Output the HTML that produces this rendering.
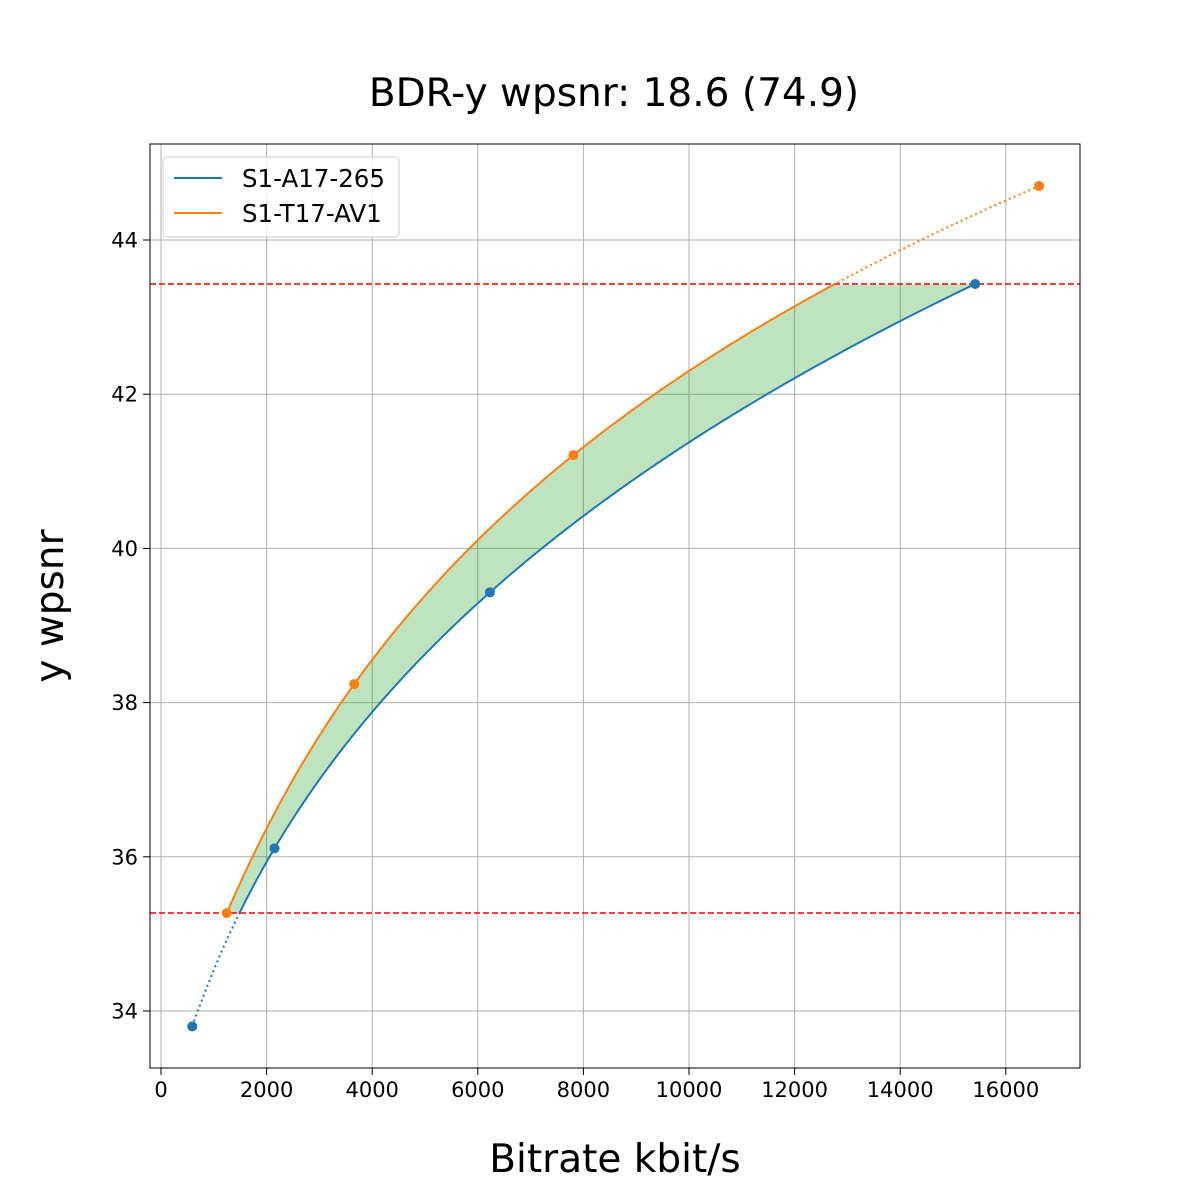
<!DOCTYPE html>
<html><head><meta charset="utf-8"><style>
html,body{margin:0;background:#fff;overflow:hidden;width:1200px;height:1200px}
svg{display:block}
svg text{font-family:"DejaVu Sans","Liberation Sans",sans-serif}
</style></head><body>
<svg id="s" width="1200" height="1200" xmlns="http://www.w3.org/2000/svg">
<rect width="1200" height="1200" fill="#fff"/>
<g id="grid" stroke="#b0b0b0" stroke-width="1"></g>
<path id="fill" fill="#2ca02c" fill-opacity="0.3" stroke="none"/>
<line x1="150" x2="1080" y1="284" y2="284" stroke="#ff0000" stroke-width="1.5" stroke-dasharray="6,3"/>
<line x1="150" x2="1080" y1="913" y2="913" stroke="#ff0000" stroke-width="1.5" stroke-dasharray="6,3"/>
<path id="bdot" fill="none" stroke="#1f77b4" stroke-width="2" stroke-dasharray="2,3.3"/>
<path id="bsol" fill="none" stroke="#1f77b4" stroke-width="2"/>
<path id="odot" fill="none" stroke="#ff7f0e" stroke-width="2" stroke-dasharray="2,3.3"/>
<path id="osol" fill="none" stroke="#ff7f0e" stroke-width="2"/>
<g id="pts"></g>
<rect x="150" y="144" width="930" height="924" fill="none" stroke="#000" stroke-width="1"/>
<g id="ticks" font-size="21" fill="#000"></g>
<text x="614" y="106" font-size="39" text-anchor="middle">BDR-y wpsnr: 18.6 (74.9)</text>
<text x="615" y="1172" font-size="39" text-anchor="middle">Bitrate kbit/s</text>
<text transform="translate(63,606) rotate(-90)" font-size="39" text-anchor="middle">y wpsnr</text>
<rect x="163" y="157" width="236" height="80" rx="4" fill="#fff" fill-opacity="0.8" stroke="#ccc"/>
<line x1="174" x2="222" y1="178" y2="178" stroke="#1f77b4" stroke-width="2"/>
<line x1="174" x2="222" y1="213" y2="213" stroke="#ff7f0e" stroke-width="2"/>
<text x="242" y="187" font-size="24.5">S1-A17-265</text>
<text x="242" y="222" font-size="24.5">S1-T17-AV1</text>
</svg>
<script>
var X=v=>161+v*0.0528, Y=v=>1011-(v-34)*77.1;
var g=document.getElementById('grid'),tk=document.getElementById('ticks'),ns='http://www.w3.org/2000/svg';
function el(p,t,a,txt){var e=document.createElementNS(ns,t);for(var k in a)e.setAttribute(k,a[k]);if(txt)e.textContent=txt;p.appendChild(e);return e;}
for(var v=0;v<=16000;v+=2000){var x=X(v);el(g,'line',{x1:x,x2:x,y1:144,y2:1068});el(tk,'line',{x1:x,x2:x,y1:1068,y2:1075,stroke:'#000'});el(tk,'text',{x:x,y:1097,'text-anchor':'middle'},String(v));}
for(var v=34;v<=44;v+=2){var y=Y(v);el(g,'line',{x1:150,x2:1080,y1:y,y2:y});el(tk,'line',{x1:143,x2:150,y1:y,y2:y,stroke:'#000'});el(tk,'text',{x:138,y:y+7.5,'text-anchor':'end'},String(v));}
function lag(xs,ys,x){var s=0;for(var i=0;i<4;i++){var p=ys[i];for(var j=0;j<4;j++)if(j!=i)p*=(x-xs[j])/(xs[i]-xs[j]);s+=p;}return s;}
function curve(r,q){var lx=r.map(Math.log),a=[];for(var i=0;i<=600;i++){var l=lx[0]+(lx[3]-lx[0])*i/600;a.push([Math.exp(l),lag(lx,q,l)]);}return a;}
var br=[592,2150,6230,15420],bq=[33.8,36.11,39.43,43.43],or=[1245,3660,7810,16630],oq=[35.27,38.24,41.21,44.70];
var B=curve(br,bq),O=curve(or,oq),lo=35.27,hi=43.43;
function d(a){return a.map((p,i)=>(i?'L':'M')+X(p[0]).toFixed(1)+' '+Y(p[1]).toFixed(1)).join('');}
var Bin=B.filter(p=>p[1]>=lo&&p[1]<=hi+0.01),Bout=B.filter(p=>p[1]<=lo+0.02);
var Oin=O.filter(p=>p[1]>=lo-0.01&&p[1]<=hi),Oout=O.filter(p=>p[1]>=hi-0.02);
document.getElementById('bsol').setAttribute('d',d(Bin));
document.getElementById('bdot').setAttribute('d',d(Bout));
document.getElementById('osol').setAttribute('d',d(Oin));
document.getElementById('odot').setAttribute('d',d(Oout));
document.getElementById('fill').setAttribute('d',d(Oin.concat(Bin.slice().reverse()))+'Z');
var pg=document.getElementById('pts');
for(var i=0;i<4;i++){el(pg,'circle',{cx:X(br[i]),cy:Y(bq[i]),r:5,fill:'#1f77b4'});el(pg,'circle',{cx:X(or[i]),cy:Y(oq[i]),r:5,fill:'#ff7f0e'});}
</script>
</body></html>
